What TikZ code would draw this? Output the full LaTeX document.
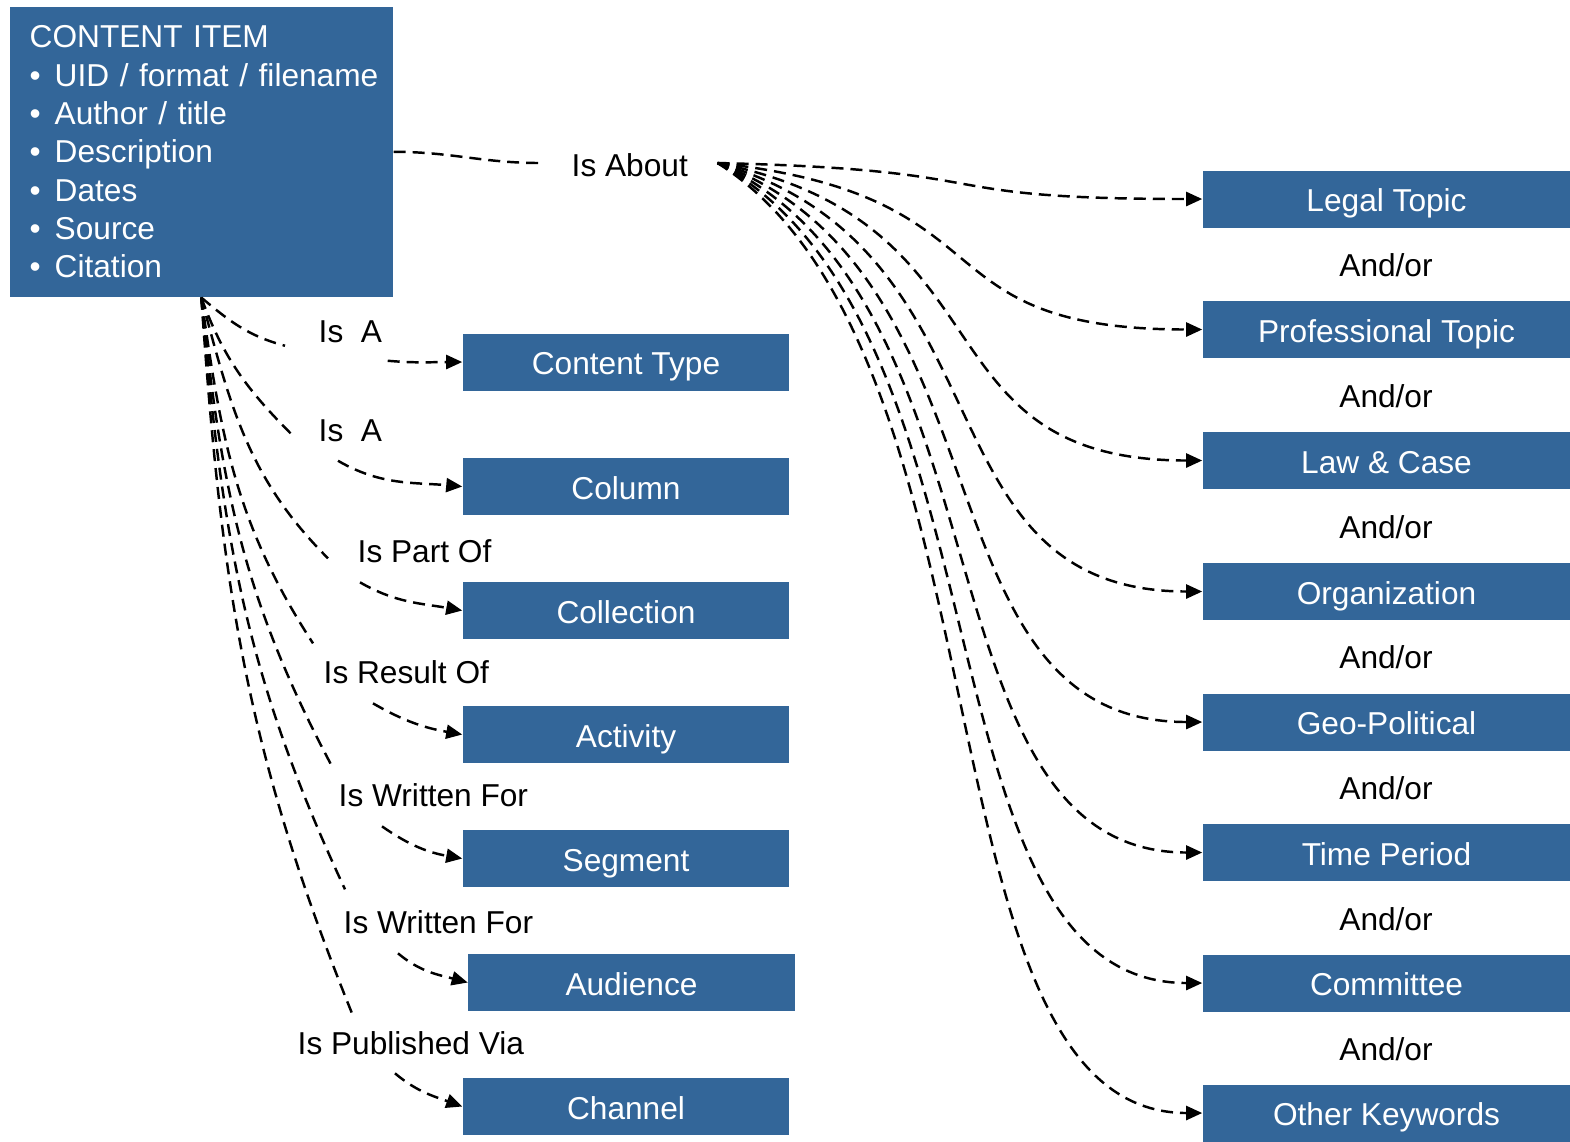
\documentclass[tikz,border=0pt]{standalone}
\usepackage{fontspec}
\setmainfont{Liberation Sans}
\usetikzlibrary{arrows.meta}
\definecolor{boxblue}{RGB}{51,102,153}

\begin{document}
\begin{tikzpicture}[x=0.01cm,y=-0.01cm]

\tikzset{>={Triangle[length=0.16cm,width=0.14cm]}}
\def\fs{\fontsize{9pt}{10.9pt}\selectfont}
\tikzstyle{block} = [
	draw=none, fill=boxblue, text=white, rectangle, inner sep=0pt,
	text height=0.72em, text depth=0pt,
	minimum height=0.57cm, minimum width=3.26cm, font=\fs ];
\tikzstyle{wide} = [block, minimum width=3.67cm];
\tikzstyle{plain} = [draw=none, fill=none, inner sep=0pt, font=\fs];
\tikzstyle{link} = [dash pattern=on 0.12cm off 0.07cm, line width=0.7pt];

\useasboundingbox (0,0) rectangle (1570,1141);

\node[block, anchor=north west, minimum width=3.83cm, minimum height=2.9cm,
	text width=3.43cm, text height=, text depth=, align=left] (item) at (9,6) {%
	\mbox{CONTENT ITEM}\\
	\mbox{\makebox[0.25cm][l]{\textbullet}UID / format / filename}\\
	\mbox{\makebox[0.25cm][l]{\textbullet}Author / title}\\
	\mbox{\makebox[0.25cm][l]{\textbullet}Description}\\
	\mbox{\makebox[0.25cm][l]{\textbullet}Dates}\\
	\mbox{\makebox[0.25cm][l]{\textbullet}Source}\\
	\mbox{\makebox[0.25cm][l]{\textbullet}Citation}};

% relation labels
\node[plain, anchor=west] (isa1) at (318,332) {Is\ \ A};
\node[plain, anchor=west] (isa2) at (318,431) {Is\ \ A};
\node[plain, anchor=west] (partof) at (357,551) {Is Part Of};
\node[plain, anchor=west] (resultof) at (323,672) {Is Result Of};
\node[plain, anchor=west] (writfor1) at (338,795) {Is Written For};
\node[plain, anchor=west] (writfor2) at (343,922) {Is Written For};
\node[plain, anchor=west] (pubvia) at (297,1043) {Is Published Via};
\node[plain, anchor=west] (about) at (571,165) {Is About};

% left targets
\node[block] (ctype) at (626,362) {Content Type};
\node[block] (column) at (626,486.5) {Column};
\node[block] (collection) at (626,610.5) {Collection};
\node[block] (activity) at (626,734.5) {Activity};
\node[block] (segment) at (626,858.5) {Segment};
\node[block] (audience) at (631.5,982.5) {Audience};
\node[block] (channel) at (626,1106.5) {Channel};

% right targets
\foreach \n/\y/\t in {legal/199/Legal Topic, prof/329.5/Professional Topic,
	law/460.5/Law \& Case, org/591.5/Organization, geo/722/Geo-Political,
	time/852.5/Time Period, comm/983/Committee, other/1113/Other Keywords}
	\node[wide] (\n) at (1386.5,\y) {\t};
\foreach \y [count=\i] in {265,396,527,657,788,919,1049}
	\node[plain] (andor\i) at (1386,\y) {And/or};

% item to left targets
\draw[link] (item.south) to[out=-40,in=165] ([shift={(-33,2)}]isa1.south west);
\draw[link,->] ([shift={(5,17)}]isa1.south east) to[out=-5,in=180] (ctype.west);
\draw[link] (item.south) to[out=-70,in=135] ([shift={(-25,-7)}]isa2.south west);
\draw[link,->] ([shift={(20,18)}]isa2.south west) to[out=-30,in=175] (column.west);
\draw[link] (item.south) to[out=-75,in=135] ([shift={(-29,-5)}]partof.south west);
\draw[link,->] ([shift={(3,19)}]partof.south west) to[out=-30,in=170] (collection.west);
\draw[link] (item.south) to[out=-82,in=123] ([shift={(-10,-41)}]resultof.south west);
\draw[link,->] ([shift={(50,19)}]resultof.south west) to[out=-30,in=170] (activity.west);
\draw[link] (item.south) to[out=-84,in=118] ([shift={(-6,-41)}]writfor1.south west);
\draw[link,->] ([shift={(44,19)}]writfor1.south west) to[out=-35,in=170] (segment.west);
\draw[link] (item.south) to[out=-85,in=115] ([shift={(2,-45)}]writfor2.south west);
\draw[link,->] ([shift={(55,19)}]writfor2.south west) to[out=-40,in=165] (audience.west);
\draw[link] (item.south) to[out=-86,in=112] ([shift={(55,-42)}]pubvia.south west);
\draw[link,->] ([shift={(98,18)}]pubvia.south west) to[out=-40,in=160] (channel.west);

% item to right targets
\draw[link] (item.east) to[out=0,in=180] ([shift={(-31,-2)}]about.west);
\coordinate (fan) at ([shift={(29,-2)}]about.east);
\foreach \n/\d in {legal/7, prof/33, law/60, org/86, geo/112, time/138, comm/164, other/190}
	\draw[link,->] (fan) .. controls +(300,\d) and +(-290,0) .. (\n.west);

\end{tikzpicture}
\end{document}
